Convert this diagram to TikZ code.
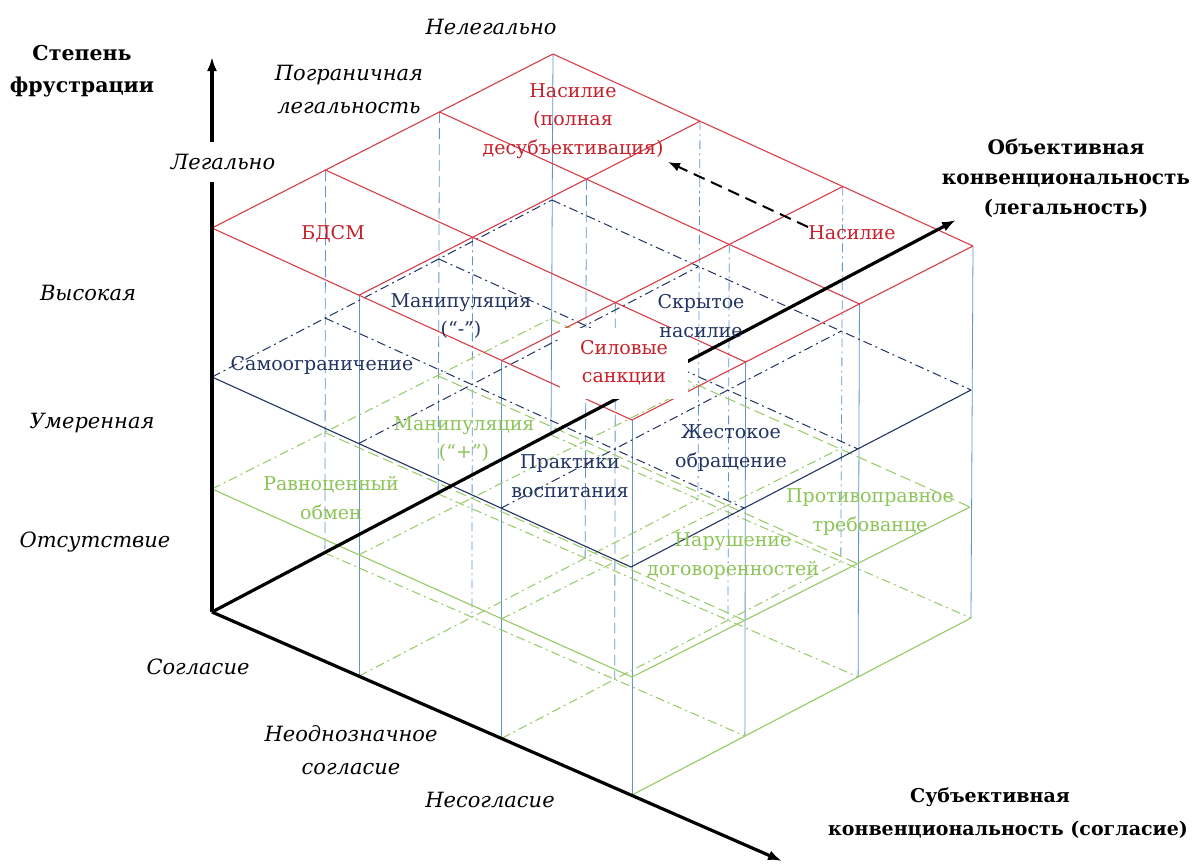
\documentclass[tikz,border=0pt]{standalone}
\usepackage{fontspec}
\setmainfont{DejaVu Serif}
\usetikzlibrary{calc,arrows.meta}
\definecolor{redln}{RGB}{214,62,72}
\definecolor{redtx}{RGB}{198,32,42}
\definecolor{navy}{RGB}{33,52,98}
\definecolor{grn}{RGB}{150,202,100}
\definecolor{grntx}{RGB}{140,196,88}
\definecolor{vblue}{RGB}{95,150,205}
\tikzset{
 redgrid/.style={draw=redln, line width=1.1pt},
 navysolid/.style={draw=navy, line width=1.1pt},
 navydd/.style={draw=navy, line width=1pt, dash pattern=on 9pt off 4pt on 2pt off 4pt},
 grnsolid/.style={draw=grn, line width=1.1pt},
 grndd/.style={draw=grn, line width=1pt, dash pattern=on 9pt off 4pt on 2pt off 4pt},
 grndash/.style={draw=grn, line width=1pt, dash pattern=on 11pt off 5pt},
 vsolid/.style={draw=vblue, line width=0.8pt},
 vdash/.style={draw=vblue, line width=0.8pt, dash pattern=on 11pt off 5pt},
 vdd/.style={draw=vblue, line width=0.8pt, dash pattern=on 9pt off 4pt on 2pt off 4pt},
 axisln/.style={draw=black, line width=3.2pt, -{Latex[length=14pt,width=10pt]}},
 dasharr/.style={draw=black, line width=2pt, dash pattern=on 12pt off 7pt, -{Latex[length=12pt,width=9pt]}},
 lbl/.style={font=\fontsize{19}{28.5}\selectfont, align=center, inner sep=1pt},
 redlbl/.style={lbl, text=redtx},
 navylbl/.style={lbl, text=navy},
 grnlbl/.style={lbl, text=grntx},
 sidelbl/.style={font=\fontsize{21}{33}\selectfont\itshape, align=center, inner sep=1pt},
 boldlbl/.style={font=\fontsize{20.5}{32}\selectfont\bfseries, align=center, inner sep=1pt},
}
\begin{document}
\begin{tikzpicture}[x=1pt,y=-1pt]
\fill[white] (0,0) rectangle (1197,863);
\useasboundingbox (0,0) rectangle (1197,863);
% grid points of the four horizontal planes
\foreach \k/\lx/\ly/\tx/\ty/\fx/\fy in {3/212/228/553/54/632/420, 2/212/377/552/200/631/567, 1/212/489/550/319/632/677, 0/212/612/551/435/632/795}{
  \foreach \i/\a in {0/0,1/0.333,2/0.667,3/1}{
    \foreach \j/\b in {0/0,1/0.35,2/0.69,3/1}{
      \pgfmathsetmacro\px{\lx+\a*(\tx-\lx)+\b*(\fx-\lx)}
      \pgfmathsetmacro\py{\ly+\a*(\ty-\ly)+\b*(\fy-\ly)}
      \coordinate (P\k-\i-\j) at (\px,\py);
    }
  }
}
\coordinate (O) at (212,612);
\coordinate (ytip) at (212,57);
\coordinate (xtip) at (782,861);
\coordinate (otip) at (956,220);
\coordinate (dtail) at (808,227);
\coordinate (dtip) at (668,162);
% vertical lines
\foreach \i/\j in {0/1,0/2,0/3,1/3,2/3,3/3,3/0} \draw[vsolid] (P3-\i-\j) -- (P0-\i-\j);
\foreach \i/\j in {1/0,2/0,2/1,1/2} \draw[vdash] (P3-\i-\j) -- (P0-\i-\j);
\foreach \i/\j in {3/1,3/2,1/1,2/2} \draw[vdd] (P3-\i-\j) -- (P0-\i-\j);
% ground plane
\foreach \i in {1,2,3} \draw[grndd] (P0-\i-0) -- (P0-\i-3);
\foreach \j in {1,2} \draw[grndd] (P0-0-\j) -- (P0-3-\j);
\draw[grnsolid] (P0-0-3) -- (P0-3-3);
% green plane
\foreach \i in {1,2,3} \draw[grndash] (P1-\i-0) -- (P1-\i-3);
\foreach \j in {0,1,2} \draw[grndd] (P1-0-\j) -- (P1-3-\j);
\draw[grnsolid] (P1-0-0) -- (P1-0-3) -- (P1-3-3);
% blue plane
\foreach \i in {1,2,3} \draw[navydd] (P2-\i-0) -- (P2-\i-3);
\foreach \j in {0,1,2} \draw[navydd] (P2-0-\j) -- (P2-3-\j);
\draw[navysolid] (P2-0-0) -- (P2-0-3) -- (P2-3-3);
% red plane
\foreach \i in {0,...,3} \draw[redgrid] (P3-\i-0) -- (P3-\i-3);
\foreach \j in {0,...,3} \draw[redgrid] (P3-0-\j) -- (P3-3-\j);
% axes
\draw[axisln] (O) -- (ytip);
\draw[axisln] (O) -- (xtip);
\draw[axisln] (O) -- (otip);
\draw[dasharr] (dtail) -- (dtip);
% side labels
\node[boldlbl] (stepen) at (82,71) {Степень\\фрустрации};
\node[sidelbl] (nelegal) at (491,27) {Нелегально};
\node[sidelbl] (pogran) at (349,89) {Пограничная\\легальность};
\node[sidelbl, fill=white, inner ysep=12pt] (legal) at (223,162) {Легально};
\node[sidelbl] (vys) at (88,293) {Высокая};
\node[sidelbl] (umer) at (92,423) {Умеренная};
\node[sidelbl] (otsut) at (95,542) {Отсутствие};
\node[sidelbl] (soglas) at (198,667) {Согласие};
\node[sidelbl] (neodn) at (351,750) {Неоднозначное\\согласие};
\node[sidelbl] (nesogl) at (490,800) {Несогласие};
\node[boldlbl, font=\fontsize{20}{30}\selectfont\bfseries] (objkonv) at (1066,178) {Объективная\\конвенциональность\\(легальность)};
\node[boldlbl, font=\fontsize{19}{32}\selectfont\bfseries] (subj1) at (990,797) {Субъективная};
\node[boldlbl, font=\fontsize{19}{32}\selectfont\bfseries] (subj2) at (1008,830) {конвенциональность (согласие)};
% cell labels
\node[redlbl] (bdsm) at (333,234) {БДСМ};
\node[redlbl] (nasil1) at (573,121) {Насилие\\(полная\\десубъективация)};
\node[redlbl] (nasil2) at (852,233) {Насилие};
\node[redlbl, fill=white, minimum width=128pt, minimum height=71pt] (silov) at (624,363) {Силовые\\санкции};
\node[navylbl] (manmin) at (461,316) {Манипуляция\\(“-”)};
\node[navylbl] (skryt) at (701,316) {Скрытое\\насилие};
\node[navylbl] (samoogr) at (322,365) {Самоограничение};
\node[navylbl] (zhest) at (731,448) {Жестокое\\обращение};
\node[navylbl] (prakt) at (570,476) {Практики\\воспитания};
\node[grnlbl] (manplus) at (464,439) {Манипуляция\\(“+”)};
\node[grnlbl] (ravn) at (331,498) {Равноценный\\обмен};
\node[grnlbl] (narush) at (733,556) {Нарушение\\договоренностей};
\node[grnlbl] (protiv) at (870,512) {Противоправное\\требованце};
\end{tikzpicture}
\end{document}
